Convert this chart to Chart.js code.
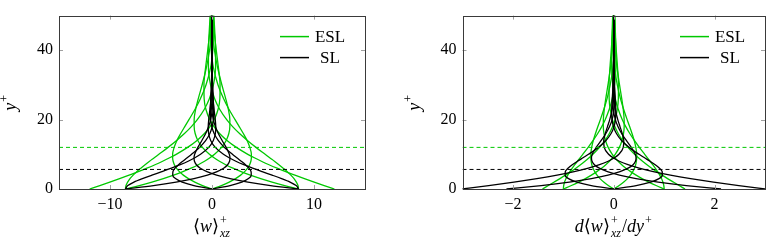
<!DOCTYPE html>
<html>
<head>
<meta charset="utf-8">
<script src="https://cdn.jsdelivr.net/npm/chart.js@4.4.1/dist/chart.umd.min.js"></script>
<style>
  body { margin: 0; background: #fff; width: 773px; height: 246px; position: relative; overflow: hidden; }
  canvas { position: absolute; top: 0; }
</style>
</head>
<body>
<canvas id="left" width="385" height="246" style="left:0"></canvas>
<canvas id="right" width="388" height="246" style="left:385px"></canvas>
<script>
// wall-normal positions y+ shared by every profile
const yPlus = [0, 1, 2, 3, 4, 5, 6, 7, 8, 9, 10, 12, 14, 16, 18, 20, 23, 26, 30, 35, 40, 45, 50];

// <w>+_xz profiles, ESL (8 phases)
const eslW0 = [12, 11.00, 10.02, 9.06, 8.13, 7.23, 6.39, 5.59, 4.84, 4.15, 3.51, 2.39, 1.47, 0.74, 0.19, -0.22, -0.60, -0.77, -0.79, -0.63, -0.42, -0.23, -0.10];
const eslW1 = [8.49, 8.43, 8.27, 8.04, 7.73, 7.38, 6.98, 6.56, 6.12, 5.66, 5.21, 4.31, 3.47, 2.70, 2.02, 1.44, 0.75, 0.26, -0.14, -0.35, -0.35, -0.28, -0.18];
const eslW2 = [0, 0.92, 1.69, 2.31, 2.81, 3.20, 3.49, 3.69, 3.81, 3.86, 3.86, 3.71, 3.44, 3.07, 2.67, 2.26, 1.66, 1.14, 0.59, 0.14, -0.08, -0.16, -0.16];
const eslW3 = [-8.49, -7.13, -5.89, -4.77, -3.76, -2.85, -2.05, -1.34, -0.73, -0.20, 0.25, 0.94, 1.39, 1.65, 1.75, 1.75, 1.60, 1.35, 0.97, 0.55, 0.24, 0.05, -0.04];
const eslW4 = [-12, -11.00, -10.02, -9.06, -8.13, -7.23, -6.39, -5.59, -4.84, -4.15, -3.51, -2.39, -1.47, -0.74, -0.19, 0.22, 0.60, 0.77, 0.79, 0.63, 0.42, 0.23, 0.10];
const eslW5 = [-8.49, -8.43, -8.27, -8.04, -7.73, -7.38, -6.98, -6.56, -6.12, -5.66, -5.21, -4.31, -3.47, -2.70, -2.02, -1.44, -0.75, -0.26, 0.14, 0.35, 0.35, 0.28, 0.18];
const eslW6 = [0, -0.92, -1.69, -2.31, -2.81, -3.20, -3.49, -3.69, -3.81, -3.86, -3.86, -3.71, -3.44, -3.07, -2.67, -2.26, -1.66, -1.14, -0.59, -0.14, 0.08, 0.16, 0.16];
const eslW7 = [8.49, 7.13, 5.89, 4.77, 3.76, 2.85, 2.05, 1.34, 0.73, 0.20, -0.25, -0.94, -1.39, -1.65, -1.75, -1.75, -1.60, -1.35, -0.97, -0.55, -0.24, -0.05, 0.04];

// <w>+_xz profiles, SL (6 phases)
const slW1 = [8.49, 8.25, 7.65, 6.82, 5.89, 4.92, 3.98, 3.11, 2.34, 1.68, 1.12, 0.32, -0.13, -0.33, -0.37, -0.32, -0.20, -0.09, -0.01, 0.02, 0.01, 0, 0];
const slW2 = [0, 1.77, 2.92, 3.58, 3.85, 3.83, 3.62, 3.28, 2.87, 2.43, 2.00, 1.21, 0.61, 0.21, -0.02, -0.14, -0.16, -0.12, -0.05, 0, 0.01, 0, 0];
const slW3 = [-8.49, -5.74, -3.52, -1.77, -0.45, 0.50, 1.14, 1.53, 1.72, 1.76, 1.70, 1.39, 0.99, 0.62, 0.33, 0.13, -0.03, -0.08, -0.06, -0.02, 0, 0, 0];
const slW5 = [-8.49, -8.25, -7.65, -6.82, -5.89, -4.92, -3.98, -3.11, -2.34, -1.68, -1.12, -0.32, 0.13, 0.33, 0.37, 0.32, 0.20, 0.09, 0.01, -0.02, -0.01, 0, 0];
const slW6 = [0, -1.77, -2.92, -3.58, -3.85, -3.83, -3.62, -3.28, -2.87, -2.43, -2.00, -1.21, -0.61, -0.21, 0.02, 0.14, 0.16, 0.12, 0.05, 0, -0.01, 0, 0];
const slW7 = [8.49, 5.74, 3.52, 1.77, 0.45, -0.50, -1.14, -1.53, -1.72, -1.76, -1.70, -1.39, -0.99, -0.62, -0.33, -0.13, 0.03, 0.08, 0.06, 0.02, 0, 0, 0];

// d<w>+_xz/dy+ profiles, ESL
const eslD0 = [-1.000, -0.993, -0.975, -0.947, -0.912, -0.870, -0.823, -0.773, -0.721, -0.668, -0.614, -0.508, -0.409, -0.318, -0.238, -0.170, -0.089, -0.031, 0.017, 0.041, 0.042, 0.033, 0.021];
const eslD1 = [0, -0.108, -0.199, -0.273, -0.332, -0.377, -0.411, -0.435, -0.449, -0.455, -0.455, -0.438, -0.405, -0.362, -0.315, -0.266, -0.196, -0.134, -0.070, -0.017, 0.010, 0.019, 0.019];
const eslD2 = [1.000, 0.840, 0.694, 0.562, 0.443, 0.336, 0.242, 0.158, 0.086, 0.024, -0.029, -0.111, -0.164, -0.194, -0.207, -0.206, -0.188, -0.159, -0.115, -0.065, -0.028, -0.006, 0.005];
const eslD3 = [1.414, 1.297, 1.181, 1.067, 0.958, 0.853, 0.753, 0.659, 0.571, 0.489, 0.413, 0.281, 0.173, 0.088, 0.022, -0.026, -0.071, -0.091, -0.093, -0.075, -0.050, -0.027, -0.011];
const eslD4 = [1.000, 0.993, 0.975, 0.947, 0.912, 0.870, 0.823, 0.773, 0.721, 0.668, 0.614, 0.508, 0.409, 0.318, 0.238, 0.170, 0.089, 0.031, -0.017, -0.041, -0.042, -0.033, -0.021];
const eslD5 = [0, 0.108, 0.199, 0.273, 0.332, 0.377, 0.411, 0.435, 0.449, 0.455, 0.455, 0.438, 0.405, 0.362, 0.315, 0.266, 0.196, 0.134, 0.070, 0.017, -0.010, -0.019, -0.019];
const eslD6 = [-1.000, -0.840, -0.694, -0.562, -0.443, -0.336, -0.242, -0.158, -0.086, -0.024, 0.029, 0.111, 0.164, 0.194, 0.207, 0.206, 0.188, 0.159, 0.115, 0.065, 0.028, 0.006, -0.005];
const eslD7 = [-1.414, -1.297, -1.181, -1.067, -0.958, -0.853, -0.753, -0.659, -0.571, -0.489, -0.413, -0.281, -0.173, -0.088, -0.022, 0.026, 0.071, 0.091, 0.093, 0.075, 0.050, 0.027, 0.011];

// d<w>+_xz/dy+ profiles, SL
const slD1 = [0, -0.445, -0.733, -0.897, -0.964, -0.961, -0.908, -0.823, -0.720, -0.610, -0.501, -0.304, -0.154, -0.053, 0.006, 0.034, 0.041, 0.030, 0.012, 0, -0.002, -0.001, 0];
const slD2 = [2.128, 1.440, 0.881, 0.443, 0.113, -0.125, -0.285, -0.383, -0.431, -0.442, -0.427, -0.349, -0.249, -0.156, -0.083, -0.032, 0.008, 0.019, 0.015, 0.005, 0, -0.001, 0];
const slD3 = [3.009, 2.481, 1.979, 1.524, 1.124, 0.784, 0.504, 0.282, 0.111, -0.015, -0.103, -0.189, -0.199, -0.168, -0.124, -0.080, -0.030, -0.003, 0.008, 0.006, 0.002, 0, 0];
const slD5 = [0, 0.445, 0.733, 0.897, 0.964, 0.961, 0.908, 0.823, 0.720, 0.610, 0.501, 0.304, 0.154, 0.053, -0.006, -0.034, -0.041, -0.030, -0.012, 0, 0.002, 0.001, 0];
const slD6 = [-2.128, -1.440, -0.881, -0.443, -0.113, 0.125, 0.285, 0.383, 0.431, 0.442, 0.427, 0.349, 0.249, 0.156, 0.083, 0.032, -0.008, -0.019, -0.015, -0.005, 0, 0.001, 0];
const slD7 = [-3.009, -2.481, -1.979, -1.524, -1.124, -0.784, -0.504, -0.282, -0.111, 0.015, 0.103, 0.189, 0.199, 0.168, 0.124, 0.080, 0.030, 0.003, -0.008, -0.006, -0.002, 0, 0];

// layer thicknesses (dashed lines)
const eslEdge = 12;
const slEdge = 5.64;

const leftXTicks = [-10, 0, 10];
const rightXTicks = [-2, 0, 2];
const yTicks = [0, 20, 40];

const GREEN = '#00c800';
const SERIF = '"Liberation Serif", "DejaVu Serif", serif';

const fmt = v => (v < 0 ? '\u2212' + Math.abs(v) : String(v));

function mathFont(size, italic) {
  return (italic ? 'italic ' : '') + size + 'px ' + SERIF;
}

// draws a small formula: parts are {t, i} text runs or {sup, sub} scripts
function drawMath(ctx, parts, x, y) {
  let w = 0;
  const items = parts.map(p => {
    let wd;
    if (p.t !== undefined) {
      ctx.font = mathFont(18, p.i);
      wd = ctx.measureText(p.t).width;
    } else {
      ctx.font = mathFont(12, false);
      const w1 = p.sup ? ctx.measureText(p.sup).width : 0;
      ctx.font = mathFont(12, true);
      const w2 = p.sub ? ctx.measureText(p.sub).width : 0;
      wd = Math.max(w1, w2) + 2;
    }
    w += wd;
    return Object.assign({ wd }, p);
  });
  let cx = x - w / 2;
  ctx.fillStyle = '#000';
  ctx.textAlign = 'left';
  ctx.textBaseline = 'alphabetic';
  for (const p of items) {
    if (p.t !== undefined) {
      ctx.font = mathFont(18, p.i);
      ctx.fillText(p.t, cx, y);
    } else {
      if (p.sup) { ctx.font = mathFont(12, false); ctx.fillText(p.sup, cx + 1, y - 8); }
      if (p.sub) { ctx.font = mathFont(12, true); ctx.fillText(p.sub, cx + 1, y + 5); }
    }
    cx += p.wd;
  }
}

const framePlugin = {
  id: 'frame',
  afterDraw(chart, args, opts) {
    const { ctx, chartArea: a, scales: { x, y } } = chart;
    ctx.save();
    // ticks inside the box on all four sides
    ctx.strokeStyle = '#a0a0a0';
    ctx.lineWidth = 1;
    ctx.beginPath();
    for (const v of opts.xTicks) {
      const px = Math.round(x.getPixelForValue(v)) + 0.5;
      ctx.moveTo(px, a.bottom); ctx.lineTo(px, a.bottom - 4);
      ctx.moveTo(px, a.top); ctx.lineTo(px, a.top + 4);
    }
    for (const v of yTicks) {
      const py = Math.round(y.getPixelForValue(v)) + 0.5;
      ctx.moveTo(a.left, py); ctx.lineTo(a.left + 4, py);
      ctx.moveTo(a.right, py); ctx.lineTo(a.right - 4, py);
    }
    ctx.stroke();
    ctx.strokeStyle = '#3a3a3a';
    ctx.strokeRect(Math.round(a.left) + 0.5, Math.round(a.top) + 0.5,
      Math.round(a.right) - Math.round(a.left), Math.round(a.bottom) - Math.round(a.top));

    // legend
    const entries = [{ label: 'ESL', color: GREEN }, { label: 'SL', color: '#000' }];
    entries.forEach((e, k) => {
      const ly = a.top + 21 + k * 21;
      ctx.strokeStyle = e.color;
      ctx.lineWidth = 1.5;
      ctx.beginPath();
      ctx.moveTo(a.right - 85, ly); ctx.lineTo(a.right - 56, ly);
      ctx.stroke();
      ctx.fillStyle = '#000';
      ctx.font = '17px ' + SERIF;
      ctx.textAlign = 'center';
      ctx.textBaseline = 'middle';
      ctx.fillText(e.label, a.right - 35, ly + 1);
    });

    // axis titles
    drawMath(ctx, opts.xTitle, (a.left + a.right) / 2, a.bottom + 43);
    ctx.translate(a.left - 43, (a.top + a.bottom) / 2);
    ctx.rotate(-Math.PI / 2);
    drawMath(ctx, [{ t: 'y', i: true }, { sup: '+' }], 0, 0);
    ctx.restore();
  }
};

function profile(xs, color, order) {
  return {
    data: xs.map((v, i) => ({ x: v, y: yPlus[i] })),
    borderColor: color,
    borderWidth: 1.3,
    pointRadius: 0,
    fill: false,
    cubicInterpolationMode: 'monotone',
    order: order
  };
}

function level(yv, color, xMin, xMax) {
  return {
    data: [{ x: xMin, y: yv }, { x: xMax, y: yv }],
    borderColor: color,
    borderWidth: 1,
    borderDash: [4, 3],
    pointRadius: 0,
    tension: 0,
    order: 0
  };
}

function makePanel(id, xMin, xMax, xTicks, esl, sl, yWidth, padRight, xTitle) {
  const datasets = [];
  esl.forEach(s => datasets.push(profile(s, GREEN, 2)));
  sl.forEach(s => datasets.push(profile(s, '#000', 1)));
  datasets.push(level(eslEdge, GREEN, xMin, xMax));
  datasets.push(level(slEdge, '#000', xMin, xMax));

  new Chart(document.getElementById(id), {
    type: 'line',
    data: { datasets },
    options: {
      indexAxis: 'y',
      responsive: false,
      animation: false,
      events: [],
      layout: { padding: { top: 7, right: padRight, left: 0, bottom: 0 } },
      scales: {
        x: {
          type: 'linear', min: xMin, max: xMax,
          grid: { display: false, drawTicks: false },
          border: { display: false },
          ticks: { font: { family: SERIF, size: 16 }, color: '#000', padding: 6, callback: v => fmt(v) },
          afterBuildTicks: s => { s.ticks = xTicks.map(v => ({ value: v })); },
          afterFit: s => { s.height = 57; }
        },
        y: {
          type: 'linear', min: 0, max: 50,
          grid: { display: false, drawTicks: false },
          border: { display: false },
          ticks: { font: { family: SERIF, size: 16 }, color: '#000', padding: 6, callback: v => fmt(v) },
          afterBuildTicks: s => { s.ticks = yTicks.map(v => ({ value: v })); },
          afterFit: s => { s.width = yWidth; }
        }
      },
      plugins: {
        legend: { display: false },
        tooltip: { enabled: false },
        frame: { xTicks, xTitle }
      }
    },
    plugins: [framePlugin]
  });
}

makePanel('left', -15, 15, leftXTicks,
  [eslW0, eslW1, eslW2, eslW3, eslW4, eslW5, eslW6, eslW7],
  [slW1, slW2, slW3, slW5, slW6, slW7],
  59, 20,
  [{ t: '\u27e8' }, { t: 'w', i: true }, { t: '\u27e9' }, { sup: '+', sub: 'xz' }]);

makePanel('right', -3, 3, rightXTicks,
  [eslD0, eslD1, eslD2, eslD3, eslD4, eslD5, eslD6, eslD7],
  [slD1, slD2, slD3, slD5, slD6, slD7],
  77.5, 8,
  [{ t: 'd', i: true }, { t: '\u27e8' }, { t: 'w', i: true }, { t: '\u27e9' }, { sup: '+', sub: 'xz' },
   { t: '/' }, { t: 'dy', i: true }, { sup: '+' }]);
</script>
</body>
</html>
